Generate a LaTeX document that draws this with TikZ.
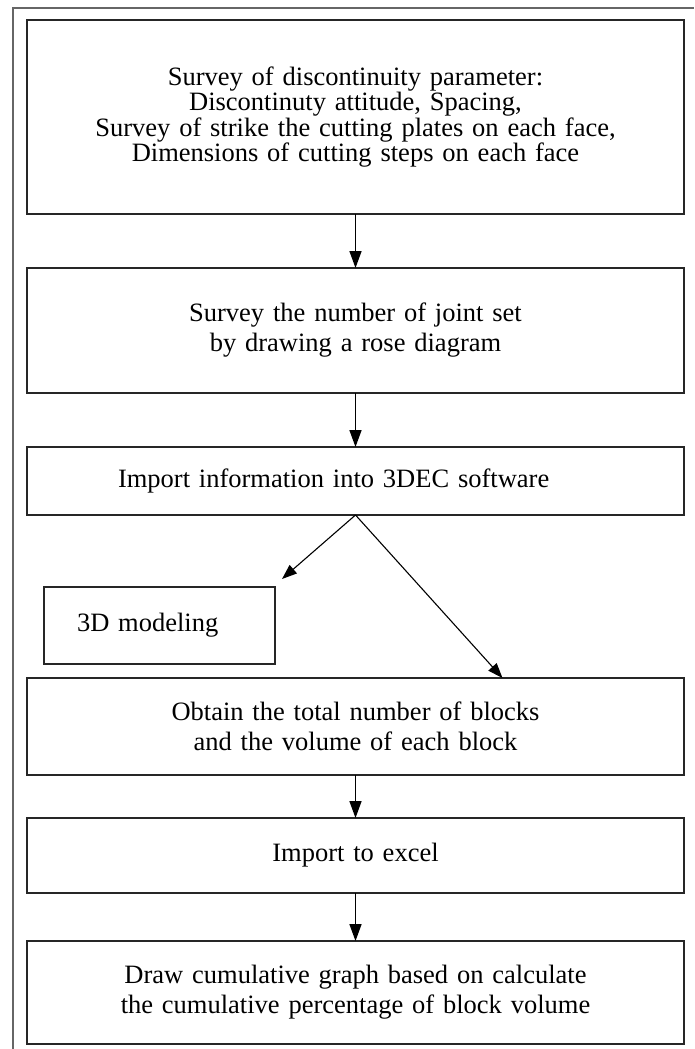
\documentclass[tikz,border=0pt]{standalone}
\usepackage{fontspec}
\setmainfont{Liberation Serif}
\usepackage{tikz}
\usetikzlibrary{positioning,arrows.meta}
\tikzset{
  procbox/.style={draw=black!85, line width=1.8pt, minimum width=657pt,
    text width=637pt, inner xsep=10pt, align=center, outer sep=0pt},
  leftbox/.style={procbox, text width=475pt, inner xsep=91pt, align=left},
  modelbox/.style={draw=black!85, line width=1.8pt, text width=165pt,
    inner xsep=33pt, minimum height=77pt, align=left, outer sep=0pt},
  frame/.style={-, draw=black!60, line width=1.2pt},
}

\begin{document}
\begin{tikzpicture}[
  x=1pt,y=1pt,
  ->,>={Triangle[length=17pt,width=12pt]},
  node distance=54pt,
  every node/.style={font=\fontsize{26.5}{30}\selectfont}
]
\useasboundingbox (0,0) rectangle (694,-1049);
\draw[frame] (13,-1049) |- (694,-8);

\node[procbox, minimum height=194pt, font=\fontsize{26.5}{24}\selectfont] (survey) at (355.5,-117)
  {Survey of discontinuity parameter:\\ Discontinuty attitude, Spacing,\\
   Survey of strike the cutting plates on each face,\\ Dimensions of cutting steps on each face};
\node[procbox, minimum height=125pt, below=of survey] (rose)
  {Survey the number of joint set\\ by drawing a rose diagram};
\node[leftbox, minimum height=68pt, below=of rose] (import) {Import information into 3DEC software};
\node[modelbox, below=72pt of import.south west, anchor=north west, xshift=17pt] (model) {3D modeling};
\node[procbox, minimum height=97pt, below=163pt of import] (obtain)
  {Obtain the total number of blocks\\ and the volume of each block};
\node[procbox, minimum height=75pt, below=43pt of obtain] (excel) {Import to excel};
\node[procbox, minimum height=103pt, below=48pt of excel] (cumul)
  {Draw cumulative graph based on calculate\\ the cumulative percentage of block volume};

\coordinate (tipL) at ([xshift=7pt,yshift=8pt]model.north east);
\coordinate (tipR) at ([xshift=147pt]obtain.north);

\path[line width=1.6pt]
(survey) edge (rose)
(rose) edge (import)
(obtain) edge (excel)
(excel) edge (cumul);
\path[line width=1.1pt, >={Triangle[length=15pt,width=11pt]}]
(import.south) edge (tipL)
(import.south) edge (tipR);

\end{tikzpicture}
\end{document}
